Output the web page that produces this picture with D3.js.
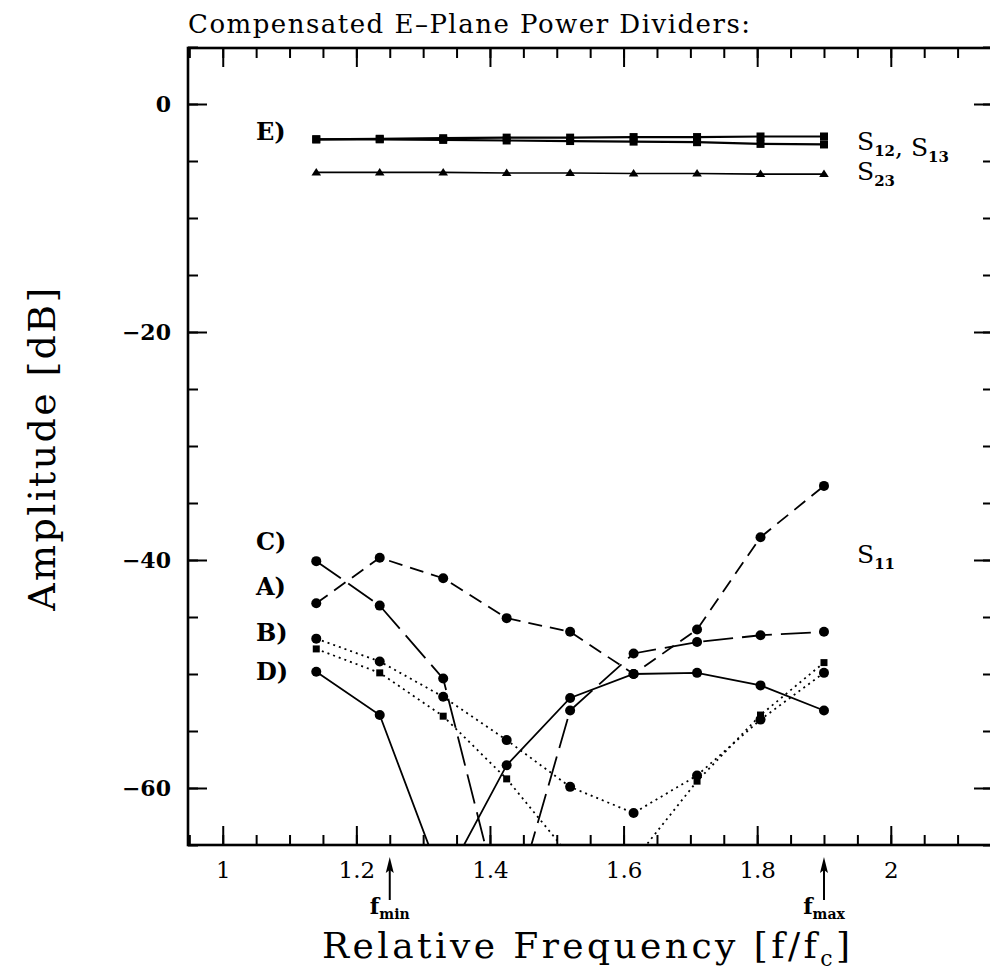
<!DOCTYPE html>
<html>
<head>
<meta charset="utf-8">
<title>Compensated E-Plane Power Dividers</title>
<script src="https://d3js.org/d3.v7.min.js"></script>
<style>
  body { margin: 0; background: #fff; }
  svg text { font-family: "DejaVu Serif", serif; fill: #000; }
  .tick line { stroke: #000; stroke-width: 2px; }
  .tick text { font-size: 22px; font-weight: bold; }
  .xlab .tick text { font-size: 23px; font-weight: normal; }
  .domain { display: none; }
  .curve { fill: none; stroke: #000; stroke-width: 1.8px; }
</style>
</head>
<body>
<svg id="chart" width="990" height="973"></svg>
<script>
// relative frequency f/fc of the measured points
const freq = [1.14, 1.235, 1.33, 1.425, 1.52, 1.615, 1.71, 1.805, 1.90];

// S11 of the four dividers in dB (anything under -65 is off the plot and clipped)
const s11A  = [-43.8, -39.8, -41.6, -45.1, -46.3, -50.0, -46.1, -38.0, -33.5];
const s11B1 = [-46.9, -48.9, -52.0, -55.8, -59.9, -62.2, -58.9, -54.0, -49.9];
const s11B2 = [-47.8, -49.9, -53.7, -59.2, -66.0, -66.4, -59.4, -53.6, -49.0];
const s11C  = [-40.1, -44.0, -50.4, -72.5, -53.2, -48.2, -47.2, -46.6, -46.3];
const s11D  = [-49.8, -53.6, -68.4, -58.0, -52.1, -50.0, -49.9, -51.0, -53.2];

// E) transmission
const s12 = [-3.1, -3.05, -3.0, -2.95, -2.95, -2.9, -2.9, -2.85, -2.85];
const s13 = [-3.1, -3.1, -3.15, -3.2, -3.25, -3.3, -3.35, -3.5, -3.55];
const s23 = [-6.0, -6.0, -6.0, -6.05, -6.05, -6.1, -6.1, -6.15, -6.15];

const xMajor = [1, 1.2, 1.4, 1.6, 1.8, 2];
const yMajor = [-60, -40, -20, 0];
const bandEdges = [1.25, 1.90];
const bandNames = ["min", "max"];

const svg = d3.select("#chart");

const x = d3.scaleLinear().domain([0.948, 2.153]).range([188, 993]);
const y = d3.scaleLinear().domain([-65, 5]).range([845, 47]);

const xMinor = d3.range(19, 44).map(i => i * 0.05);
const yMinor = d3.range(-13, 2).map(i => i * 5);

// ticks all point inward, like the original plot
function ticks(axis, pos, vals, len, fmt) {
  const g = svg.append("g").attr("transform", pos);
  g.call(axis.tickValues(vals).tickSize(-len).tickPadding(fmt ? 17 : 0)
    .tickFormat(fmt || (() => "")));
  return g;
}

ticks(d3.axisBottom(x), "translate(0,845)", xMinor, 10);
ticks(d3.axisBottom(x), "translate(0,845)", xMajor, 19, d3.format("~g"))
  .attr("class", "xlab");
ticks(d3.axisTop(x), "translate(0,48)", xMinor, 10);
ticks(d3.axisTop(x), "translate(0,48)", xMajor, 19);

ticks(d3.axisLeft(y), "translate(188,0)", yMinor, 10);
ticks(d3.axisLeft(y), "translate(188,0)", yMajor, 19, d3.format("d"));
ticks(d3.axisRight(y), "translate(993,0)", yMinor, 10);
ticks(d3.axisRight(y), "translate(993,0)", yMajor, 19);

svg.append("rect")
  .attr("x", 188).attr("y", 48)
  .attr("width", 993 - 188).attr("height", 845 - 48)
  .attr("fill", "none").attr("stroke", "#000").attr("stroke-width", 2.6);

svg.append("clipPath").attr("id", "plot")
  .append("rect").attr("x", 188).attr("y", 48).attr("width", 805).attr("height", 797);

const plot = svg.append("g").attr("clip-path", "url(#plot)");

const line = d3.line().x((d, i) => x(freq[i])).y(d => y(d));

const curves = [
  { vals: s11A,  dash: "14,8", mark: "circle" },
  { vals: s11C,  dash: "30,9", mark: "circle" },
  { vals: s11D,  dash: null,   mark: "circle" },
  { vals: s11B1, dash: "2,4",  mark: "circle" },
  { vals: s11B2, dash: "2,4",  mark: "square", size: 7 },
  { vals: s12,   dash: null,   mark: "square", size: 8, width: 2.2 },
  { vals: s13,   dash: null,   mark: "square", size: 8, width: 2.2 },
  { vals: s23,   dash: null,   mark: "triangle", width: 1.6 }
];

curves.forEach(c => {
  plot.append("path").attr("class", "curve")
    .attr("d", line(c.vals))
    .attr("stroke-dasharray", c.dash)
    .style("stroke-width", c.width ? c.width + "px" : null);

  const pts = plot.append("g").selectAll("path").data(c.vals).join("path")
    .attr("transform", (d, i) => `translate(${x(freq[i])},${y(d)})`);
  if (c.mark === "circle") {
    pts.attr("d", d3.symbol(d3.symbolCircle, Math.PI * 25));
  } else if (c.mark === "square") {
    const h = c.size / 2;
    pts.attr("d", `M${-h},${-h}h${c.size}v${c.size}h${-c.size}Z`);
  } else {
    pts.attr("d", "M0,-4.5L4.8,3L-4.8,3Z");
  }
});

// band edge arrows under the axis
bandEdges.forEach((f, i) => {
  const g = svg.append("g").attr("transform", `translate(${x(f)},0)`);
  g.append("path").attr("d", "M0,900V868").attr("stroke", "#000").attr("stroke-width", 2);
  g.append("path").attr("d", "M0,857L-4,873L0,870L4,873Z").attr("fill", "#000");
  const t = g.append("text").attr("y", 914).attr("text-anchor", "middle")
    .style("font-weight", "bold").style("font-size", "22px");
  t.append("tspan").text("f");
  t.append("tspan").attr("dy", 5).style("font-size", "14px").text(bandNames[i]);
});

// curve labels
const labels = [["E)", 140], ["C)", 550], ["A)", 595], ["B)", 641], ["D)", 680]];
svg.selectAll("text.lab").data(labels).join("text").attr("class", "lab")
  .attr("x", 256).attr("y", d => d[1])
  .style("font-size", "24px").style("font-weight", "bold")
  .text(d => d[0]);

function sParam(xp, yp, parts) {
  const t = svg.append("text").attr("x", xp).attr("y", yp).style("font-size", "25px");
  parts.forEach(p => {
    if (p.sub) {
      t.append("tspan").attr("dy", 6).style("font-size", "15px")
        .style("font-weight", "bold").text(p.sub);
      t.append("tspan").attr("dy", -6).text("");
    } else {
      t.append("tspan").text(p.txt);
    }
  });
}
sParam(857, 150, [{ txt: "S" }, { sub: "12" }, { txt: ", S" }, { sub: "13" }]);
sParam(857, 180, [{ txt: "S" }, { sub: "23" }]);
sParam(857, 563, [{ txt: "S" }, { sub: "11" }]);

function fitWidth(t, target) {
  const len = t.node().getComputedTextLength();
  const n = t.text().length;
  t.attr("letter-spacing", (target - len) / (n - 1));
}

const title = svg.append("text").attr("x", 188).attr("y", 33)
  .style("font-size", "26px").text("Compensated E\u2013Plane Power Dividers:");
fitWidth(title, 562);

const xt = svg.append("text").attr("x", 322).attr("y", 958).style("font-size", "36px");
xt.append("tspan").text("Relative Frequency [f/f");
xt.append("tspan").attr("dy", 8).style("font-size", "22px").text("c");
xt.append("tspan").attr("dy", -8).text("]");
fitWidth(xt, 528);

const yt = svg.append("text").attr("transform", "translate(55,448) rotate(-90)")
  .attr("text-anchor", "middle").style("font-size", "38px").text("Amplitude [dB]");
fitWidth(yt, 323);
</script>
</body>
</html>
